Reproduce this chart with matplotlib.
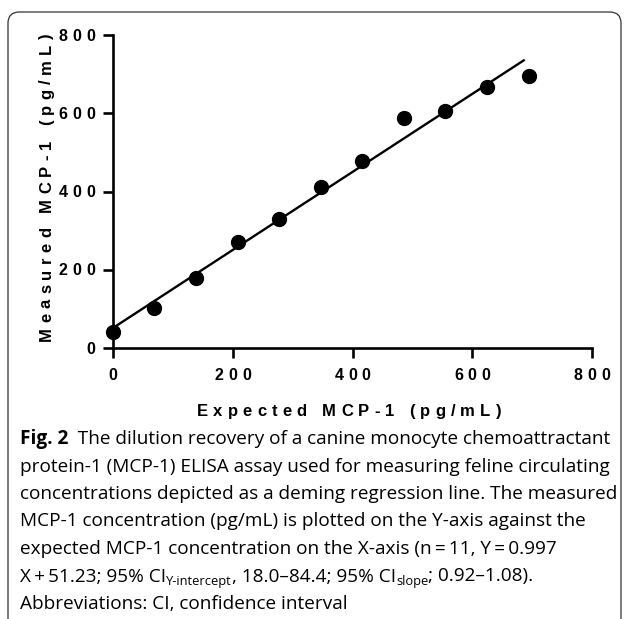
import matplotlib
matplotlib.use('Agg')
import matplotlib.pyplot as plt
from matplotlib import font_manager
from matplotlib.ft2font import FT2Font
from matplotlib.patches import FancyBboxPatch

# values
expected = [0, 69, 139, 208, 278, 347, 416, 486, 555, 625, 694]
measured = [40, 102, 180, 271, 329, 411, 479, 588, 605, 668, 696]
slope, intercept = 0.997, 51.23
line_x = [0, 686]
ticks = [0, 200, 400, 600, 800]
xlabel = 'Expected MCP-1 (pg/mL)'
ylabel = 'Measured MCP-1 (pg/mL)'

W, H = 627, 619
fig = plt.figure(figsize=(W / 100, H / 100), dpi=100)

PRISM = dict(family='Liberation Sans', weight='bold')
CAP = ['Open Sans', 'DejaVu Sans']

bold_path = font_manager.findfont(font_manager.FontProperties(**PRISM))
ft = FT2Font(bold_path)


def advance(ch, size):
    ft.set_size(size, 100)
    return ft.load_char(ord(ch)).linearHoriAdvance / 65536


def tracked(x, y, s, size, track=0.34, rot=0, align='left'):
    # prism style letter spacing; x, y = baseline anchor in px from top-left
    px = size * 100 / 72
    advs = [advance(c, size) for c in s]
    gap = track * px
    total = sum(advs) + gap * (len(s) - 1)
    pos = {'left': 0, 'center': -total / 2, 'right': -total}[align]
    for c, a in zip(s, advs):
        if rot == 0:
            fx, fy = x + pos, y
        else:
            fx, fy = x, y - pos
        fig.text(fx / W, 1 - fy / H, c, fontsize=size, rotation=rot,
                 rotation_mode='anchor', ha='left', va='baseline', **PRISM)
        pos += a + gap


# rounded frame around the whole figure
frame = FancyBboxPatch((8 / W, -0.05), (621 - 8) / W, 1.05 - 12 / H,
                       boxstyle='round,pad=0,rounding_size=0.018',
                       transform=fig.transFigure, fill=False,
                       edgecolor='#333333', linewidth=0.9)
fig.add_artist(frame)

ax = fig.add_axes([113 / W, 1 - 348 / H, (592 - 113) / W, (348 - 35) / H])
ax.plot(line_x, [slope * x + intercept for x in line_x], color='black', lw=1.7, zorder=2)
ax.plot(expected, measured, 'o', color='black', ms=10, clip_on=False, zorder=3)

ax.set_xlim(0, 800)
ax.set_ylim(0, 800)
for s in ['top', 'right']:
    ax.spines[s].set_visible(False)
for s in ['left', 'bottom']:
    ax.spines[s].set_linewidth(1.9)
ax.set_xticks(ticks)
ax.set_yticks(ticks)
ax.set_xticklabels([])
ax.set_yticklabels([])
ax.tick_params(axis='both', direction='out', length=7, width=1.9)

fig.canvas.draw()
rend = fig.canvas.get_renderer()

tick_size = 11.5
cap_h = 0.716 * tick_size * 100 / 72
for t in ticks:
    xd, _ = ax.transData.transform((t, 0))
    _, yd = ax.transData.transform((0, t))
    tracked(xd, 380.5, str(t), tick_size, track=0.3, align='center')
    tracked(95, H - yd + cap_h / 2, str(t), tick_size, track=0.3, align='right')

tracked(349, 416, xlabel, 12, track=0.31, align='center')
tracked(51, 187, ylabel, 12, track=0.31, rot=90, align='center')

# caption, laid out piece by piece so the bold head and subscripts line up
lines = [
    [('Fig. 2', 'b'), ('  The dilution recovery of a canine monocyte chemoattractant', 'n')],
    [('protein-1 (MCP-1) ELISA assay used for measuring feline circulating', 'n')],
    [('concentrations depicted as a deming regression line. The measured', 'n')],
    [('MCP-1 concentration (pg/mL) is plotted on the Y-axis against the', 'n')],
    [('expected MCP-1 concentration on the X-axis (n\u2009=\u200911, Y\u2009=\u20090.997', 'n')],
    [('X\u2009+\u200951.23; 95% CI', 'n'), ('Y-intercept', 's'), (', 18.0\u201384.4; 95% CI', 'n'),
     ('slope', 's'), ('; 0.92\u20131.08).', 'n')],
    [('Abbreviations: CI, confidence interval', 'n')],
]

probe = fig.text(0, 0, lines[1][0][0], fontsize=10, family=CAP)
cap_size = 10 * (610 - 20) / probe.get_window_extent(rend).width
probe.remove()

for i, pieces in enumerate(lines):
    base = 444 + 27.5 * i
    x = 20
    for txt, kind in pieces:
        kw = dict(family=CAP, fontsize=cap_size, va='baseline', ha='left')
        y = base
        if kind == 'b':
            kw['weight'] = 'bold'
        elif kind == 's':
            kw['fontsize'] = cap_size * 0.68
            y = base + 4
        t = fig.text(x / W, 1 - y / H, txt, **kw)
        x = t.get_window_extent(rend).x1

fig.savefig('out.png', dpi=100)
